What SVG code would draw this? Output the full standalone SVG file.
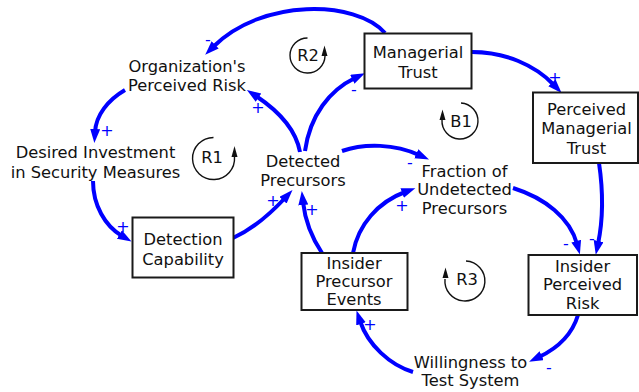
<svg xmlns="http://www.w3.org/2000/svg" width="639" height="392" viewBox="0 0 639 392">
  <defs>
    <marker id="head" markerUnits="userSpaceOnUse" markerWidth="16" markerHeight="12" refX="3" refY="5" orient="auto">
      <path d="M0,0 L14,5 L0,10 z" fill="#0000ff"/>
    </marker>
  </defs>
  <style>
    text { font-family: "DejaVu Sans", Verdana, sans-serif; font-size: 16.3px; fill: #111; }
    .lbl { text-anchor: middle; }
    .box { fill: #fff; stroke: #1a1a1a; stroke-width: 2; }
    .link { fill: none; stroke: #0000ff; stroke-width: 4; marker-end: url(#head); }
    .sign { fill: #0000ff; text-anchor: middle; dominant-baseline: central; font-size: 16px; }
    .loop { fill: none; stroke: #111; stroke-width: 1.4; }
    .loophead { fill: #111; }
  </style>
  <rect width="639" height="392" fill="#fff"/>

  <!-- causal links -->
  <g id="connectors">
    <path class="link" d="M385,33 C356,0 262,-2 213,47"/>
    <path class="link" d="M125,90 C108,100 96,115 95,132"/>
    <path class="link" d="M93,181 C93,205 105,226 122,236"/>
    <path class="link" d="M233,238 C255,228 272,212 285,198"/>
    <path class="link" d="M322,253 C312,238 305,220 303,202"/>
    <path class="link" d="M300,152 C296,130 280,112 256,96"/>
    <path class="link" d="M305,151 C310,115 330,90 355,78"/>
    <path class="link" d="M342,151 C365,143 395,144 419,155"/>
    <path class="link" d="M353,253 C358,225 378,202 405,192"/>
    <path class="link" d="M513,188 C545,198 570,218 577,244"/>
    <path class="link" d="M599,163 C603,190 603,220 598,244"/>
    <path class="link" d="M472,52 C505,52 535,65 554,85"/>
    <path class="link" d="M578,315 C572,335 558,348 539,357"/>
    <path class="link" d="M413,372 C390,365 368,345 360,321"/>
  </g>

  <!-- link polarities -->
  <g id="polarities">
    <text class="sign" x="208" y="39">-</text>
    <text class="sign" x="107" y="130">+</text>
    <text class="sign" x="123" y="226">+</text>
    <text class="sign" x="273" y="200">+</text>
    <text class="sign" x="312" y="209">+</text>
    <text class="sign" x="258" y="107">+</text>
    <text class="sign" x="354" y="89">-</text>
    <text class="sign" x="410" y="162">-</text>
    <text class="sign" x="402" y="205">+</text>
    <text class="sign" x="566" y="243">-</text>
    <text class="sign" x="592" y="238">-</text>
    <text class="sign" x="555" y="77">+</text>
    <text class="sign" x="549" y="367">-</text>
    <text class="sign" x="370" y="324">+</text>
  </g>

  <!-- stock variables -->
  <g id="managerial-trust">
    <rect class="box" x="364.5" y="33.5" width="107" height="55"/>
    <text class="lbl" x="418" y="58">Managerial</text>
    <text class="lbl" x="418" y="77.5">Trust</text>
  </g>
  <g id="perceived-managerial-trust">
    <rect class="box" x="533" y="92.5" width="105" height="70.5"/>
    <text class="lbl" x="586.5" y="114.5">Perceived</text>
    <text class="lbl" x="586.5" y="134.3">Managerial</text>
    <text class="lbl" x="586.5" y="154">Trust</text>
  </g>
  <g id="detection-capability">
    <rect class="box" x="132.5" y="217.5" width="101" height="60"/>
    <text class="lbl" x="183" y="245">Detection</text>
    <text class="lbl" x="183" y="264.5">Capability</text>
  </g>
  <g id="insider-precursor-events">
    <rect class="box" x="301.5" y="253" width="106" height="57"/>
    <text class="lbl" x="354" y="269.3">Insider</text>
    <text class="lbl" x="354" y="287.3">Precursor</text>
    <text class="lbl" x="354" y="305">Events</text>
  </g>
  <g id="insider-perceived-risk">
    <rect class="box" x="528.5" y="255" width="108.5" height="60"/>
    <text class="lbl" x="582.5" y="271.7">Insider</text>
    <text class="lbl" x="582.5" y="290">Perceived</text>
    <text class="lbl" x="582.5" y="309.3">Risk</text>
  </g>

  <!-- auxiliary variables -->
  <g id="organizations-perceived-risk">
    <text class="lbl" x="187" y="71.7">Organization's</text>
    <text class="lbl" x="187" y="90.7">Perceived Risk</text>
  </g>
  <g id="desired-investment">
    <text class="lbl" x="95.5" y="158.3">Desired Investment</text>
    <text class="lbl" x="95.5" y="178.3">in Security Measures</text>
  </g>
  <g id="detected-precursors">
    <text class="lbl" x="303" y="167.3">Detected</text>
    <text class="lbl" x="303" y="185.7">Precursors</text>
  </g>
  <g id="fraction-undetected">
    <text class="lbl" x="464.5" y="176.7">Fraction of</text>
    <text class="lbl" x="464.5" y="195">Undetected</text>
    <text class="lbl" x="464.5" y="214.3">Precursors</text>
  </g>
  <g id="willingness-to-test">
    <text class="lbl" x="470.5" y="367.7">Willingness to</text>
    <text class="lbl" x="470.5" y="386">Test System</text>
  </g>

  <!-- loop identifiers -->
  <g id="loop-r1">
    <path class="loop" d="M213.5,137.5 A21,21 0 1 0 234.5,157"/>
    <path class="loophead" d="M234.5,146 L231.5,157 L237.5,157 z"/>
    <text class="lbl" x="212" y="163">R1</text>
  </g>
  <g id="loop-r2">
    <path class="loop" d="M307.5,38 A17.5,17.5 0 1 0 325,56"/>
    <path class="loophead" d="M324.5,45.5 L321.5,56 L327.5,56 z"/>
    <text class="lbl" x="308" y="61">R2</text>
  </g>
  <g id="loop-b1">
    <path class="loop" d="M461,103 A18,18 0 1 1 442,120"/>
    <path class="loophead" d="M442.5,109.5 L439.5,120 L445.5,120 z"/>
    <text class="lbl" x="461" y="127">B1</text>
  </g>
  <g id="loop-r3">
    <path class="loop" d="M466,261 A20,20 0 1 1 445,279"/>
    <path class="loophead" d="M445.5,267.5 L442.5,278 L448.5,278 z"/>
    <text class="lbl" x="467" y="285">R3</text>
  </g>
</svg>
